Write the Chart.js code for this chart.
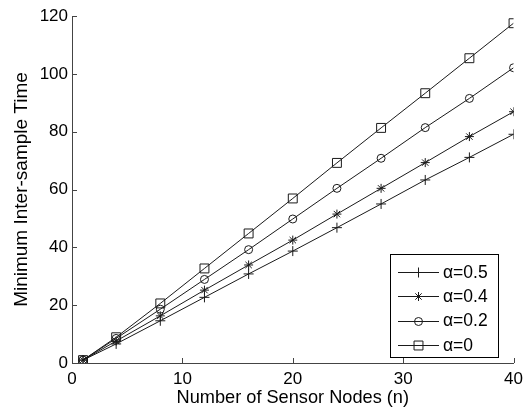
<!DOCTYPE html>
<html>
<head>
<meta charset="utf-8">
<script src="https://cdn.jsdelivr.net/npm/chart.js@4/dist/chart.umd.min.js"></script>
<style>
html,body{margin:0;padding:0;background:#fff;}
#wrap{width:529px;height:409px;position:relative;}
</style>
</head>
<body>
<div id="wrap"><canvas id="c" width="529" height="409"></canvas></div>
<script>
const nodes = [1, 4, 8, 12, 16, 20, 24, 28, 32, 36, 40];
const alpha05 = [1, 6.6, 14.6, 22.7, 30.8, 38.7, 46.8, 55.0, 63.3, 71.1, 79.1];
const alpha04 = [1, 7.6, 16.3, 25.2, 33.9, 42.5, 51.5, 60.4, 69.3, 78.3, 86.9];
const alpha02 = [1, 8.5, 18.6, 28.9, 39.2, 49.8, 60.4, 70.8, 81.4, 91.5, 102.1];
const alpha0  = [1, 8.9, 20.6, 32.7, 44.8, 56.9, 69.2, 81.3, 93.3, 105.4, 117.5];
const seriesLabels = ['\u03b1=0.5', '\u03b1=0.4', '\u03b1=0.2', '\u03b1=0'];
const xTicks = [0, 10, 20, 30, 40];
const yTicks = [0, 20, 40, 60, 80, 100, 120];

const FONT = '"Liberation Sans", Arial, Helvetica, sans-serif';
const lineColor = '#1a1a1a';
const styles = [
  {pointStyle: 'cross', radius: 5},
  {pointStyle: 'star', radius: 4.5},
  {pointStyle: 'circle', radius: 4},
  {pointStyle: 'rect', radius: 6.3}
];
const seriesValues = [alpha05, alpha04, alpha02, alpha0];

const datasets = seriesValues.map((vals, i) => ({
  label: seriesLabels[i],
  data: nodes.map((n, k) => ({x: n, y: vals[k]})),
  borderColor: lineColor,
  backgroundColor: 'rgba(0,0,0,0)',
  borderWidth: 1,
  pointStyle: styles[i].pointStyle,
  pointRadius: styles[i].radius,
  pointHoverRadius: styles[i].radius,
  pointBorderColor: lineColor,
  pointBackgroundColor: 'rgba(0,0,0,0)',
  pointBorderWidth: 1,
  tension: 0
}));

const innerTicks = {
  id: 'innerTicks',
  afterDraw(chart) {
    const ctx = chart.ctx;
    const xs = chart.scales.x, ys = chart.scales.y;
    const a = chart.chartArea;
    ctx.save();
    ctx.strokeStyle = '#444';
    ctx.lineWidth = 1;
    ctx.beginPath();
    xTicks.forEach(v => {
      const px = Math.round(xs.getPixelForValue(v)) + 0.5;
      ctx.moveTo(px, a.bottom);
      ctx.lineTo(px, a.bottom - 5);
    });
    yTicks.forEach(v => {
      const py = Math.round(ys.getPixelForValue(v)) + 0.5;
      ctx.moveTo(a.left, py);
      ctx.lineTo(a.left + 5, py);
    });
    ctx.stroke();
    ctx.restore();
  }
};

const boxLegend = {
  id: 'boxLegend',
  afterDraw(chart) {
    const ctx = chart.ctx;
    const bx = 390, by = 254, bw = 108, bh = 103;
    ctx.save();
    ctx.fillStyle = '#fff';
    ctx.fillRect(bx, by, bw, bh);
    ctx.strokeStyle = '#000';
    ctx.lineWidth = 1;
    ctx.strokeRect(bx + 0.5, by + 0.5, bw, bh);
    ctx.font = '17.5px ' + FONT;
    ctx.textBaseline = 'middle';
    ctx.fillStyle = '#000';
    chart.data.datasets.forEach((ds, i) => {
      const cy = by + 18 + i * 24.3;
      ctx.strokeStyle = lineColor;
      ctx.lineWidth = 1;
      ctx.beginPath();
      ctx.moveTo(398, Math.round(cy) + 0.5);
      ctx.lineTo(439, Math.round(cy) + 0.5);
      ctx.stroke();
      ctx.strokeStyle = lineColor;
      ctx.fillStyle = 'rgba(0,0,0,0)';
      Chart.helpers.drawPoint(ctx, {pointStyle: ds.pointStyle, radius: ds.pointRadius, borderWidth: 1}, 418.5, Math.round(cy) + 0.5);
      ctx.fillStyle = '#000';
      ctx.fillText(ds.label, 443, cy + 1);
    });
    ctx.restore();
  }
};

new Chart(document.getElementById('c'), {
  type: 'line',
  data: {datasets},
  options: {
    responsive: false,
    animation: false,
    events: [],
    layout: {padding: {top: 16, right: 10, left: 0, bottom: 0}},
    plugins: {legend: {display: false}, tooltip: {enabled: false}},
    scales: {
      x: {
        type: 'linear', min: 0, max: 40,
        afterBuildTicks: s => { s.ticks = xTicks.map(v => ({value: v})); },
        afterFit: s => { s.height = 46; },
        grid: {display: true, drawOnChartArea: false, drawTicks: false},
        border: {display: true, color: '#444', width: 1},
        ticks: {color: '#000', font: {family: FONT, size: 17}, padding: 6, maxRotation: 0},
        title: {display: true, text: 'Number of Sensor Nodes (n)', color: '#000', font: {family: FONT, size: 18.2}, padding: {top: 2, bottom: 0}}
      },
      y: {
        type: 'linear', min: 0, max: 120,
        afterBuildTicks: s => { s.ticks = yTicks.map(v => ({value: v})); },
        afterFit: s => { s.width = 72; },
        grid: {display: true, drawOnChartArea: false, drawTicks: false},
        border: {display: true, color: '#444', width: 1},
        ticks: {color: '#000', font: {family: FONT, size: 17}, padding: 4},
        title: {display: true, text: 'Minimum Inter-sample Time', color: '#000', font: {family: FONT, size: 19}, padding: {top: 10, bottom: 0}}
      }
    }
  },
  plugins: [innerTicks, boxLegend]
});
</script>
</body>
</html>
